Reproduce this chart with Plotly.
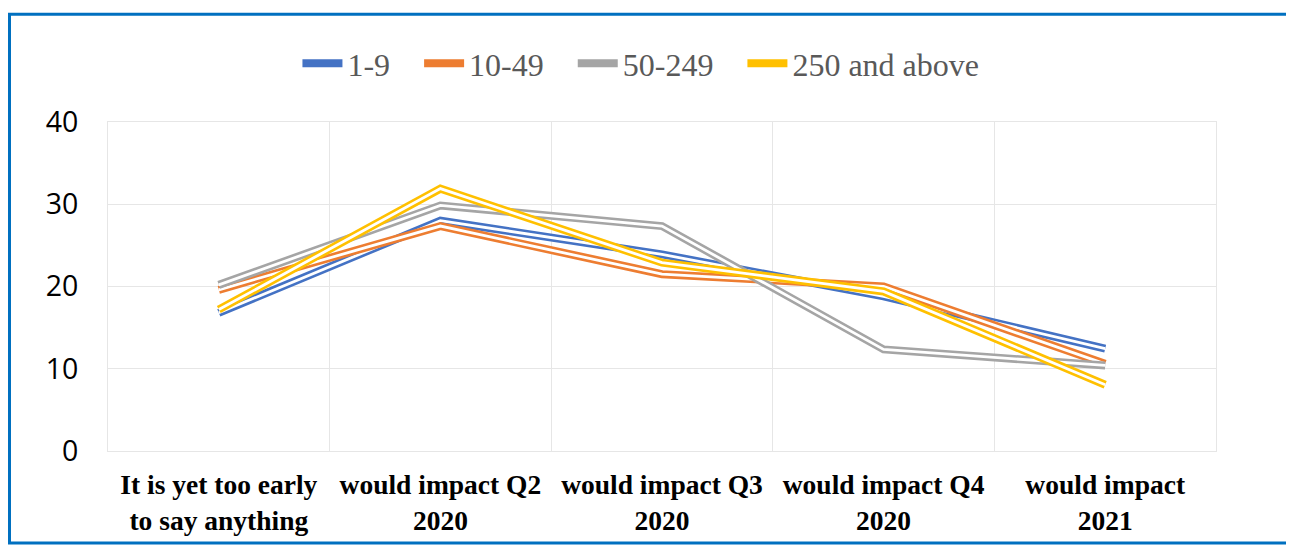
import plotly.graph_objects as go

categories = ["It is yet too early<br>to say anything", "would impact Q2<br>2020",
              "would impact Q3<br>2020", "would impact Q4<br>2020", "would impact<br>2021"]
series_names = ["1-9", "10-49", "50-249", "250 and above"]
s_1_9 = [16.8, 28.0, 23.9, 18.8, 12.45]
s_10_49 = [19.6, 27.35, 21.5, 20.0, 10.6]
s_50_249 = [20.2, 29.85, 27.35, 12.35, 10.4]
s_250 = [17.2, 31.9, 22.9, 19.4, 8.05]
y_ticks = [0, 10, 20, 30, 40]

colors = ["#4472C4", "#ED7D31", "#A5A5A5", "#FFC000"]
values = [s_1_9, s_10_49, s_50_249, s_250]
xs = list(range(len(categories)))

fig = go.Figure()
for i, (name, vals, col) in enumerate(zip(series_names, values, colors)):
    label = name if i == len(series_names) - 1 else name + "\u00a0\u00a0\u00a0"
    fig.add_trace(go.Scatter(x=xs, y=vals, mode="lines", name=label,
                             line=dict(color=col, width=8), legendgroup=name))
    fig.add_trace(go.Scatter(x=xs, y=vals, mode="lines", showlegend=False,
                             line=dict(color="white", width=2.8), legendgroup=name,
                             hoverinfo="skip"))

grid = "#E6E6E6"
# page body has an 8px offset; figure is sized/margined to compensate
L, T, R, B = 100, 114, 78, 95
W, H = 1286, 540
pw, ph = W - L - R, H - T - B

fig.update_layout(
    width=W, height=H,
    margin=dict(l=L, r=R, t=T, b=B),
    paper_bgcolor="white", plot_bgcolor="white",
    showlegend=True,
    legend=dict(orientation="h", x=0.481, xanchor="center", y=1.178, yanchor="middle",
                font=dict(family="Liberation Serif", size=32, color="#595959"),
                itemwidth=40, tracegroupgap=0),
    xaxis=dict(range=[-0.5, 4.5], tickmode="array", tickvals=xs, ticktext=categories,
               showgrid=False, zeroline=False,
               showline=True, mirror=True, linecolor=grid, linewidth=1,
               tickfont=dict(family="Liberation Serif", size=27.5, color="black", weight="bold"),
               ticks="", ticklabelstandoff=9,
               minor=dict(tickmode="array", tickvals=[0.5, 1.5, 2.5, 3.5],
                          showgrid=True, gridcolor=grid, gridwidth=1, ticks="")),
    yaxis=dict(range=[0, 40], tickmode="array", tickvals=y_ticks,
               showgrid=True, gridcolor=grid, gridwidth=1, zeroline=False,
               showline=True, mirror=True, linecolor=grid, linewidth=1,
               tickfont=dict(family="Open Sans", size=28.5, color="black"),
               ticks="", ticklabelstandoff=23),
    shapes=[dict(type="rect", xref="paper", yref="paper",
                 x0=(1.5 - L) / pw, x1=(W + 20 - L) / pw,
                 y0=(T + ph - 537.5) / ph, y1=(T + ph - 5.5) / ph,
                 line=dict(color="#0070C0", width=3), fillcolor="rgba(0,0,0,0)",
                 layer="below")],
)

fig.write_html("out.html")
